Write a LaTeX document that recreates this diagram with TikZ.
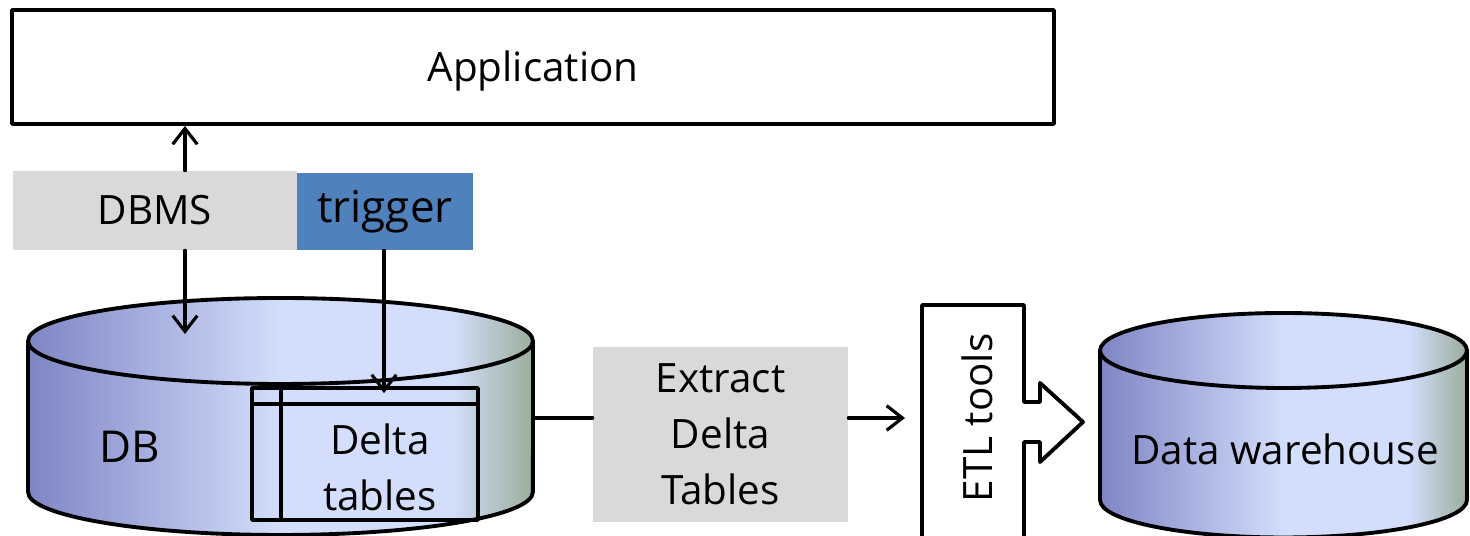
\documentclass[tikz,border=0pt]{standalone}
\usepackage{fontspec}
\setmainfont{Open Sans}
\usetikzlibrary{arrows.meta,positioning}
\definecolor{dbmsgray}{HTML}{D9D9D9}
\definecolor{trigblue}{HTML}{4F81BD}
\definecolor{cylA}{HTML}{7E85C4}
\definecolor{cylB}{HTML}{D3DEFC}
\definecolor{cylC}{HTML}{9AAE9C}
\pgfdeclarehorizontalshading{cylshade}{100bp}{color(0bp)=(cylA); color(25bp)=(cylA); color(50bp)=(cylB); color(67bp)=(cylB); color(75bp)=(cylC); color(100bp)=(cylC)}
\tikzset{
  txt/.style={font=\fontsize{23}{32}\selectfont, align=center},
  box/.style={draw, line width=2.2pt, txt, inner sep=0pt},
  flat/.style={txt, inner sep=0pt},
  outl/.style={line width=2.2pt},
  conn/.style={line width=1.8pt},
  arr/.style={conn, -{Straight Barb[length=9pt,width=14pt]}}
}
\begin{document}
\begin{tikzpicture}[x=0.02cm,y=0.02cm,line join=round,line cap=round]
  \useasboundingbox (0,0) rectangle (1470,536);
  % application and the DBMS bar
  \node[box, minimum width=20.84cm, minimum height=2.28cm, text height=16pt, text depth=0pt] (app) at (533,469) {Application};
  \node[flat, fill=dbmsgray, minimum width=5.68cm, minimum height=1.58cm] (dbms) at (155,325.5) {DBMS};
  \node[flat, fill=trigblue, minimum width=3.52cm, minimum height=1.54cm, font=\fontsize{25}{30}\selectfont] (trig) at (385,324.5) {trigger};
  % source DB cylinder
  \shade[shading=cylshade] (28,195) -- (28,44) arc[start angle=180,end angle=360,x radius=5.05cm,y radius=0.86cm] -- (533,195) arc[start angle=0,end angle=180,x radius=5.05cm,y radius=0.86cm] -- cycle;
  \draw[outl] (28,195) -- (28,44) arc[start angle=180,end angle=360,x radius=5.05cm,y radius=0.86cm] -- (533,195);
  \draw[outl] (280.5,195) ellipse[x radius=5.05cm,y radius=0.86cm];
  \node[txt, font=\fontsize{25}{30}\selectfont] (dbl) at (130,89) {DB};
  % delta tables inside the DB
  \node[draw, outl, minimum width=4.52cm, minimum height=2.64cm] (delta) at (365,82) {};
  \draw[outl] (252,132) -- (478,132);
  \draw[outl] (281,148) -- (281,16);
  \node[txt] (dtxt) at (380,69) {Delta\\tables};
  % connectors
  \coordinate (dbx) at (185,0);
  \coordinate (dbin) at (185,202);
  \coordinate (trx) at (384,0);
  \draw[arr] (dbms.north -| dbx) -- (app.south -| dbx);
  \draw[arr] (dbms.south -| dbx) -- (dbin);
  \draw[arr] (trig.south -| trx) -- ([yshift=-4pt]delta.north -| trx);
  % extraction
  \node[flat, fill=dbmsgray, minimum width=5.1cm, minimum height=3.5cm] (extract) at (720.5,101.5) {Extract\\Delta\\Tables};
  \coordinate (dbE) at (533,118);
  \coordinate (etlin) at (905,118);
  \draw[conn] (dbE) -- (extract.west |- dbE);
  \draw[arr] (extract.east |- dbE) -- (etlin);
  % ETL block arrow
  \draw[outl, fill=white] (922,-10) -- (922,231) -- (1024,231) -- (1024,134) -- (1040,134) -- (1040,153) -- (1083,114) -- (1040,74) -- (1040,94) -- (1024,94) -- (1024,-10);
  \node[txt, rotate=90] (etl) at (977,118) {ETL tools};
  % data warehouse cylinder
  \shade[shading=cylshade] (1100,185.5) -- (1100,36) arc[start angle=180,end angle=360,x radius=3.67cm,y radius=0.75cm] -- (1467,185.5) arc[start angle=0,end angle=180,x radius=3.67cm,y radius=0.75cm] -- cycle;
  \draw[outl] (1100,185.5) -- (1100,36) arc[start angle=180,end angle=360,x radius=3.67cm,y radius=0.75cm] -- (1467,185.5);
  \draw[outl] (1283.5,185.5) ellipse[x radius=3.67cm,y radius=0.75cm];
  \node[txt] (dw) at (1285,87) {Data warehouse};
\end{tikzpicture}
\end{document}
